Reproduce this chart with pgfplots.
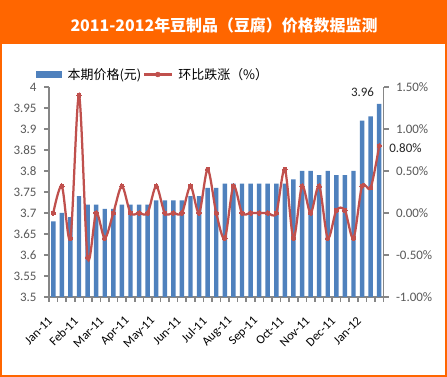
\documentclass[border=0pt]{standalone}
\usepackage{pgfplots}
\pgfplotsset{compat=1.18}
\usepackage{pgfplotstable}
\usepackage{fontspec}
\setmainfont{Carlito}
\newfontfamily\cjk{Noto Sans CJK SC}
\definecolor{barblue}{HTML}{4F81BD}
\definecolor{linered}{HTML}{C0504D}
\definecolor{frameorange}{HTML}{FF6600}
\definecolor{axisgrey}{HTML}{868686}
\definecolor{labelgrey}{HTML}{595959}

\pgfplotstableread{
x price chg
0 3.68 0.00
1 3.70 0.32
2 3.69 -0.30
3 3.74 1.40
4 3.72 -0.53
5 3.72 0.00
6 3.71 -0.30
7 3.71 0.00
8 3.72 0.32
9 3.72 0.00
10 3.72 0.00
11 3.72 0.00
12 3.73 0.32
13 3.73 0.00
14 3.73 0.00
15 3.73 0.00
16 3.74 0.32
17 3.74 0.00
18 3.76 0.52
19 3.76 0.00
20 3.77 -0.30
21 3.77 0.32
22 3.77 0.00
23 3.77 0.00
24 3.77 0.00
25 3.77 0.00
26 3.77 0.00
27 3.77 0.52
28 3.78 -0.30
29 3.80 0.32
30 3.80 0.00
31 3.79 0.32
32 3.80 -0.30
33 3.79 0.03
34 3.79 0.03
35 3.80 -0.30
36 3.92 0.32
37 3.93 0.30
38 3.96 0.80
}\datatable

\begin{document}
\begin{tikzpicture}
\useasboundingbox (0,0) rectangle (447bp,377bp);
\fill[white] (0,0) rectangle (447bp,377bp);
\fill[frameorange] (0,333bp) rectangle (447bp,377bp);
\draw[frameorange, line width=2bp] (1bp,1bp) rectangle (446bp,376bp);
\node[text=white, font=\cjk\bfseries\fontsize{16}{18}\selectfont] at (224bp,352bp) {2011-2012年豆制品（豆腐）价格数据监测};

\begin{axis}[
  at={(49bp,80bp)}, anchor=south west,
  scale only axis, width=334.5bp, height=210bp,
  xmin=-0.5, xmax=38.5, ymin=3.5, ymax=4,
  axis x line*=bottom, axis y line*=left,
  axis line style={axisgrey, line width=1.6bp},
  tick align=outside,
  major tick length=5bp, minor tick length=5bp,
  tick style={axisgrey, line width=1.6bp},
  major x tick style={draw=none},
  xtick={0,3,...,36},
  xticklabels={Jan-11,Feb-11,Mar-11,Apr-11,May-11,Jun-11,Jul-11,Aug-11,Sep-11,Oct-11,Nov-11,Dec-11,Jan-12},
  minor xtick={-0.5,0.5,...,38.5},
  xticklabel style={font=\fontsize{12.5}{14}\selectfont, text=black, inner sep=0pt, xshift=-3bp, yshift=-17bp, rotate=45, anchor=east},
  ytick={3.5,3.55,...,4.01},
  yticklabels={3.5,3.55,3.6,3.65,3.7,3.75,3.8,3.85,3.9,3.95,4},
  yticklabel style={font=\fontsize{13}{15}\selectfont, text=labelgrey, xshift=-4bp},
  clip mode=individual,
  legend columns=2,
  legend style={draw=none, fill=none, at={(axis description cs:0,1)}, anchor=west,
    xshift=-13bp, yshift=12.5bp, inner sep=0pt,
    font=\fontsize{13}{15}\selectfont, text=black,
    nodes={inner sep=1.5bp},
    /tikz/every odd column/.append style={column sep=4bp}},
]
\addplot[ybar, bar width=0.52, fill=barblue, draw=none,
  legend image code/.code={\fill[barblue] (0bp,-3.5bp) rectangle (26bp,3.5bp);}]
  table[x=x, y=price] {\datatable};
\addlegendentry{\cjk 本期价格(元)}
\addlegendimage{legend image code/.code={\draw[linered, line width=2.25bp] (0bp,0bp) -- (28bp,0bp); \fill[linered] (14bp,0bp) circle (2.5bp);}}
\addlegendentry{\cjk 环比跌涨（\%）}
\node[anchor=south east, inner sep=0pt, font=\fontsize{13}{15}\selectfont, text=black!85] at (axis cs:38,3.96) [xshift=-5bp, yshift=7bp] {3.96};
\end{axis}

\begin{axis}[
  at={(49bp,80bp)}, anchor=south west,
  scale only axis, width=334.5bp, height=210bp,
  xmin=-0.5, xmax=38.5, ymin=-1, ymax=1.5,
  axis x line=none, axis y line*=right,
  axis line style={axisgrey, line width=1.6bp},
  tick align=outside,
  major tick length=5bp,
  tick style={axisgrey, line width=1.6bp},
  ytick={-1,-0.5,0,0.5,1,1.5},
  yticklabels={-1.00\%,-0.50\%,0.00\%,0.50\%,1.00\%,1.50\%},
  yticklabel style={font=\fontsize{13}{15}\selectfont, text=labelgrey, xshift=4bp},
  clip mode=individual,
]
\addplot[linered, line width=2.25bp, smooth, mark=*, mark size=2.2bp, mark options={fill=linered, draw=linered, line width=0pt}]
  table[x=x, y=chg] {\datatable};
\node[anchor=west, inner sep=0pt, font=\fontsize{13}{15}\selectfont, text=black!85] at (axis cs:38,0.80) [xshift=10bp, yshift=-2bp] {0.80\%};
\end{axis}
\end{tikzpicture}
\end{document}
